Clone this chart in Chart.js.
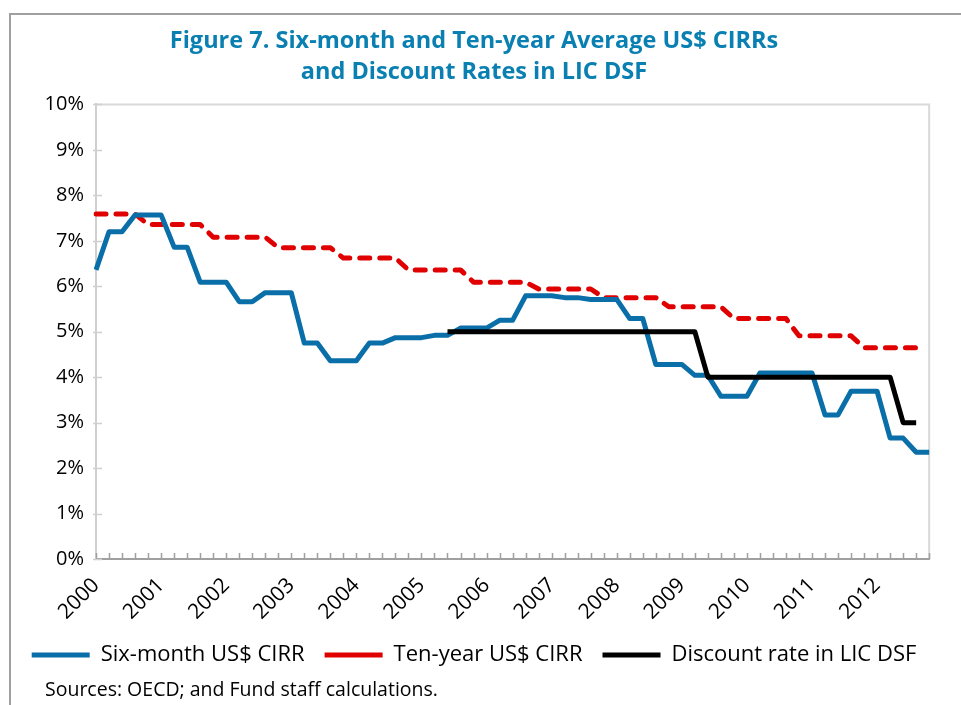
<!DOCTYPE html>
<html>
<head>
<meta charset="utf-8">
<script src="https://cdn.jsdelivr.net/npm/chart.js@4.4.1/dist/chart.umd.min.js"></script>
<style>
  html, body { margin: 0; padding: 0; background: #fff; }
</style>
</head>
<body>
<canvas id="chart" width="961" height="705"></canvas>
<script>
// x axis: 5 observations per year, year label on the first one
const years = ['2000', '2001', '2002', '2003', '2004', '2005', '2006',
    '2007', '2008', '2009', '2010', '2011', '2012']
const perYear = 5

// Six-month US$ CIRR (%)
const sixMonth = [
    6.36, 7.20, 7.20, 7.57, 7.57, 7.57, 6.86, 6.86, 6.09, 6.09,
    6.09, 5.66, 5.66, 5.86, 5.86, 5.86, 4.75, 4.75, 4.36, 4.36,
    4.36, 4.75, 4.75, 4.87, 4.87, 4.87, 4.92, 4.92, 5.08, 5.08,
    5.08, 5.25, 5.25, 5.79, 5.79, 5.79, 5.75, 5.75, 5.71, 5.71,
    5.71, 5.29, 5.29, 4.28, 4.28, 4.28, 4.04, 4.04, 3.58, 3.58,
    3.58, 4.09, 4.09, 4.09, 4.09, 4.09, 3.17, 3.17, 3.69, 3.69,
    3.69, 2.66, 2.66, 2.35, 2.35,
]

// Ten-year US$ CIRR (%)
const tenYear = [
    7.59, 7.59, 7.59, 7.59, 7.36, 7.36, 7.36, 7.36, 7.36, 7.08,
    7.08, 7.08, 7.08, 7.08, 6.85, 6.85, 6.85, 6.85, 6.85, 6.62,
    6.62, 6.62, 6.62, 6.62, 6.36, 6.36, 6.36, 6.36, 6.36, 6.09,
    6.09, 6.09, 6.09, 6.09, 5.94, 5.94, 5.94, 5.94, 5.94, 5.75,
    5.75, 5.75, 5.75, 5.75, 5.55, 5.55, 5.55, 5.55, 5.55, 5.29,
    5.29, 5.29, 5.29, 5.29, 4.91, 4.91, 4.91, 4.91, 4.91, 4.65,
    4.65, 4.65, 4.65, 4.65, null,
]

// Discount rate in LIC DSF (%)
const discountRate = [
    null, null, null, null, null, null, null, null, null, null,
    null, null, null, null, null, null, null, null, null, null,
    null, null, null, null, null, null, null, 5.0, 5.0, 5.0,
    5.0, 5.0, 5.0, 5.0, 5.0, 5.0, 5.0, 5.0, 5.0, 5.0,
    5.0, 5.0, 5.0, 5.0, 5.0, 5.0, 5.0, 4.0, 4.0, 4.0,
    4.0, 4.0, 4.0, 4.0, 4.0, 4.0, 4.0, 4.0, 4.0, 4.0,
    4.0, 4.0, 3.0, 3.0, null,
]

const yMin = 0
const yMax = 10
const sourceNote = 'Sources: OECD; and Fund staff calculations.'

const categories = []
years.forEach(y => {
    categories.push(y)
    for (let k = 1; k < perYear; k++) categories.push('')
})

const FONT = '"Open Sans", Lato, sans-serif'

// outer frame, plot box, inward tick marks and the source line
const framePlugin = {
    id: 'frame',
    beforeDraw(chart) {
        const { ctx, chartArea: a } = chart
        ctx.save()
        ctx.strokeStyle = '#a0a0a0'
        ctx.lineWidth = 2
        ctx.beginPath()
        ctx.moveTo(10, 705)
        ctx.lineTo(10, 14)
        ctx.lineTo(961, 14)
        ctx.stroke()

        ctx.strokeStyle = '#d9d9d9'
        ctx.lineWidth = 2
        ctx.beginPath()
        ctx.moveTo(a.left, a.top)
        ctx.lineTo(a.right, a.top)
        ctx.lineTo(a.right, a.bottom)
        ctx.stroke()
        ctx.restore()
    },
    beforeDatasetsDraw(chart) {
        const { ctx, chartArea: a } = chart
        const xs = chart.scales.x
        const ys = chart.scales.y
        ctx.save()
        ctx.lineWidth = 1.5
        ctx.strokeStyle = '#a0a0a0'
        ctx.beginPath()
        for (let i = 0; i < xs.ticks.length; i++) {
            const px = Math.round(xs.getPixelForTick(i)) + 0.5
            ctx.moveTo(px, a.bottom)
            ctx.lineTo(px, a.bottom - 6)
        }
        ctx.stroke()
        ctx.strokeStyle = '#d0d0d0'
        ctx.beginPath()
        for (let i = 0; i < ys.ticks.length; i++) {
            const py = Math.round(ys.getPixelForTick(i)) + 0.5
            ctx.moveTo(a.left - 3, py)
            ctx.lineTo(a.left + 6, py)
        }
        ctx.stroke()
        ctx.restore()
    },
    afterDraw(chart) {
        const { ctx } = chart
        ctx.save()
        ctx.fillStyle = '#000'
        ctx.font = '19.5px ' + FONT
        ctx.textBaseline = 'middle'
        ctx.fillText(sourceNote, 45, 690)
        ctx.restore()
    },
}

new Chart(document.getElementById('chart'), {
    type: 'line',
    data: {
        labels: categories,
        datasets: [
            {
                label: 'Six-month US$ CIRR',
                data: sixMonth,
                borderColor: '#0a6fa8',
                backgroundColor: '#0a6fa8',
                borderWidth: 5,
                borderJoinStyle: 'round',
                pointStyle: 'line',
                pointRadius: 0,
                order: 2,
            },
            {
                label: 'Ten-year US$ CIRR',
                data: tenYear,
                borderColor: '#e00000',
                backgroundColor: '#e00000',
                borderWidth: 5,
                borderDash: [10, 10],
                borderCapStyle: 'round',
                borderJoinStyle: 'round',
                pointStyle: 'line',
                pointRadius: 0,
                order: 3,
            },
            {
                label: 'Discount rate in LIC DSF',
                data: discountRate,
                borderColor: '#000000',
                backgroundColor: '#000000',
                borderWidth: 5,
                borderJoinStyle: 'round',
                pointStyle: 'line',
                pointRadius: 0,
                order: 1,
            },
        ],
    },
    options: {
        responsive: false,
        animation: false,
        devicePixelRatio: 1,
        layout: { padding: { left: 10, right: 23, top: 14, bottom: 29 } },
        elements: { line: { tension: 0 } },
        scales: {
            x: {
                offset: false,
                grid: { display: false, drawTicks: false },
                border: { color: '#a0a0a0', width: 2 },
                ticks: {
                    autoSkip: false,
                    minRotation: 45,
                    maxRotation: 45,
                    padding: 14,
                    color: '#000',
                    font: { family: FONT, size: 21 },
                },
                afterFit(s) { s.height = 65 },
            },
            y: {
                min: yMin,
                max: yMax,
                grid: { display: false, drawTicks: false },
                border: { color: '#d0d0d0', width: 2 },
                ticks: {
                    stepSize: 1,
                    padding: 12,
                    color: '#000',
                    font: { family: FONT, size: 20 },
                    callback: v => v + '%',
                },
                afterFit(s) { s.width = 86 },
            },
        },
        plugins: {
            title: {
                display: true,
                text: ['Figure 7. Six-month and Ten-year Average US$ CIRRs',
                    'and Discount Rates in LIC DSF'],
                color: '#0a80b2',
                font: { family: FONT, size: 23.5, weight: 'bold', lineHeight: 1.35 },
                padding: { top: 11, bottom: 16 },
            },
            legend: {
                position: 'bottom',
                labels: {
                    usePointStyle: true,
                    pointStyleWidth: 58,
                    padding: 20,
                    color: '#000',
                    font: { family: FONT, size: 22 },
                    sort: (a, b) => a.datasetIndex - b.datasetIndex,
                },
            },
            tooltip: { enabled: false },
        },
    },
    plugins: [framePlugin],
})
</script>
</body>
</html>
